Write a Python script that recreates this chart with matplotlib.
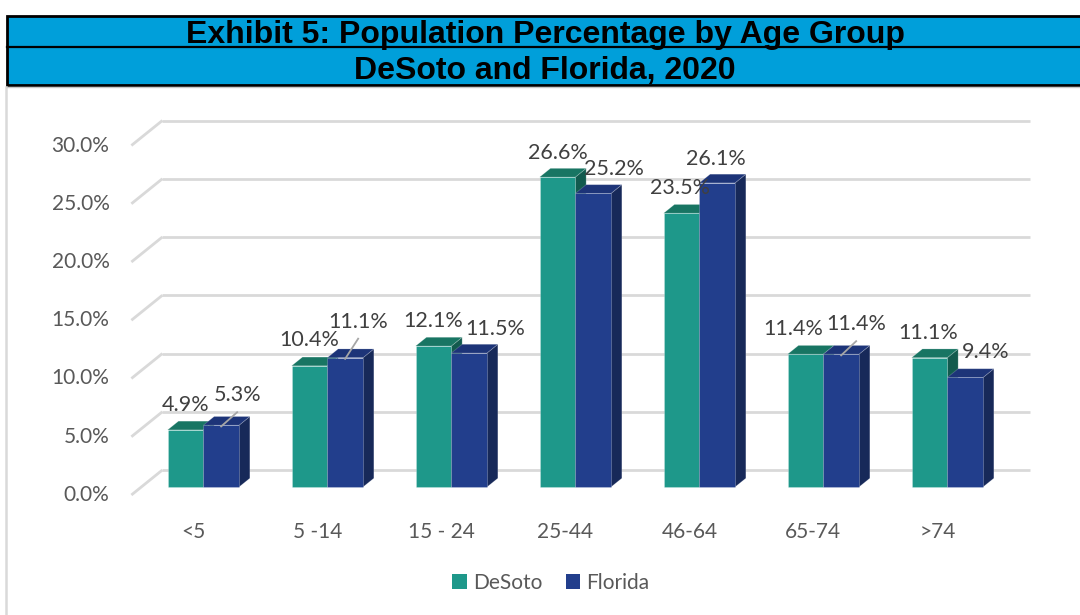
import numpy as np
import matplotlib
matplotlib.use("Agg")
import matplotlib.pyplot as plt
from matplotlib.patches import Rectangle, Polygon
from matplotlib.lines import Line2D

# Chart data
categories = ["<5", "5 -14", "15 - 24", "25-44", "46-64", "65-74", ">74"]
desoto = [4.9, 10.4, 12.1, 26.6, 23.5, 11.4, 11.1]
florida = [5.3, 11.1, 11.5, 25.2, 26.1, 11.4, 9.4]
series_names = ["DeSoto", "Florida"]
yticks = [0, 5, 10, 15, 20, 25, 30]

# Label nudges in pixels (dx, dy from top of bar front face)
desoto_lbl = [(0, 25), (0, 26), (0, 25), (0, 24), (-1, 25), (-12, 25), (-1, 25)]
florida_lbl = [(16, 30), (13, 36), (26, 24), (21, 24), (-1, 24), (15, 30), (21, 25)]
leaders = [True, True, False, False, False, True, False]

W, H = 1080, 615
SX, SY = 124.0, 11.65          # px per category / px per percent
OX, OY = 203.3, 487.0          # pixel position of category 0, value 0 (bar plane)
DX, DY = 31 / SX, 25 / SY      # depth of floor in data units
FRONT, BACK = -0.32, 0.68      # floor front / back relative to bar plane
BD = 0.35                      # bar depth (fraction of floor)
BW = 35.7 / SX                 # bar width

colors = {
    "DeSoto": ("#1E988A", "#187563", "#125A4E"),
    "Florida": ("#223E8C", "#1D3478", "#172959"),
}
grid_c = "#D9D9D9"
txt_c = "#595959"
lbl_c = "#404040"
font = "Lato"

fig = plt.figure(figsize=(W / 100, H / 100), dpi=100)
fig.patch.set_facecolor("white")
ax = fig.add_axes([0, 0, 1, 1])
ax.set_xlim(-OX / SX, (W - OX) / SX)
ax.set_ylim((OY - H) / SY, OY / SY)
ax.axis("off")

fx = lambda px: px / W
fy = lambda py: 1 - py / H

# title band
fig.patches.append(Rectangle((fx(7), fy(85)), 1 - fx(7) + 0.01, (85 - 16) / H,
                             transform=fig.transFigure, facecolor="#009FDA",
                             edgecolor="black", lw=2, zorder=0))
fig.lines.append(Line2D([fx(7), 1], [fy(47), fy(47)], transform=fig.transFigure,
                        color="black", lw=1.6))
fig.lines.append(Line2D([fx(6), fx(6)], [fy(87), 0], transform=fig.transFigure,
                        color=grid_c, lw=1.8))
fig.lines.append(Line2D([fx(7), 1], [fy(87), fy(87)], transform=fig.transFigure,
                        color="#C8C8C8", lw=1.0))
fig.text(fx(545), fy(32), "Exhibit 5: Population Percentage by Age Group",
         ha="center", va="center_baseline", fontsize=23, fontweight="bold",
         family="Liberation Sans", color="black")
fig.text(fx(545), fy(68), "DeSoto and Florida, 2020",
         ha="center", va="center_baseline", fontsize=23, fontweight="bold",
         family="Liberation Sans", color="black")

# walls / gridlines
x0 = -0.5
x1 = len(categories) - 0.5
for v in yticks:
    ax.plot([x0 + FRONT * DX, x0 + BACK * DX], [v + FRONT * DY, v + BACK * DY],
            color=grid_c, lw=2, solid_capstyle="butt", zorder=1)
    ax.plot([x0 + BACK * DX, x1 + BACK * DX], [v + BACK * DY, v + BACK * DY],
            color=grid_c, lw=2, solid_capstyle="butt", zorder=1)
    ax.text(x0 + FRONT * DX - 22 / SX, v + FRONT * DY, f"{v:.1f}%",
            ha="right", va="center", fontsize=15, color=txt_c, family=font)

# category labels (front plane)
for i, c in enumerate(categories):
    ax.text(i + FRONT * DX, -3.85, c, ha="center", va="center",
            fontsize=15, color=txt_c, family=font)

# 3D-ish bars
bdx, bdy = BD * DX, BD * DY
z = 2
for i in range(len(categories)):
    for s, (name, vals) in enumerate(zip(series_names, [desoto, florida])):
        v = vals[i]
        left = i - BW + s * BW
        fc, tc, sc = colors[name]
        side = Polygon([(left + BW, 0), (left + BW + bdx, bdy),
                        (left + BW + bdx, v + bdy), (left + BW, v)],
                       closed=True, facecolor=sc, edgecolor=(1, 1, 1, 0.2),
                       lw=0.6, zorder=z)
        top = Polygon([(left, v), (left + bdx, v + bdy),
                       (left + BW + bdx, v + bdy), (left + BW, v)],
                      closed=True, facecolor=tc, edgecolor=(1, 1, 1, 0.2),
                      lw=0.6, zorder=z)
        ax.add_patch(side)
        ax.add_patch(top)
        ax.bar(left, v, width=BW, align="edge", color=fc,
               edgecolor=(1, 1, 1, 0.25), lw=0.6, zorder=z + 0.5)
        z += 1

# data labels
for i in range(len(categories)):
    for s, (vals, offs) in enumerate(zip([desoto, florida], [desoto_lbl, florida_lbl])):
        v = vals[i]
        xc = i - BW / 2 + s * BW
        dx, dy = offs[i]
        lx, ly = xc + dx / SX, v + dy / SY
        ax.text(lx, ly, f"{v:.1f}%", ha="center", va="center", fontsize=15.5,
                color=lbl_c, family=font, zorder=50)
        if s == 1 and leaders[i]:
            ax.plot([xc, lx], [v - 0.1, ly - 17 / SY], color="#A6A6A6",
                    lw=1.3, zorder=49)

# legend
handles = [Rectangle((0, 0), 1, 1, facecolor=colors[n][0]) for n in series_names]
leg = fig.legend(handles, series_names, loc="center", ncol=2, frameon=False,
                 bbox_to_anchor=(fx(551), fy(583)), handlelength=0.7,
                 handleheight=0.7, handletextpad=0.3, columnspacing=1.1,
                 prop={"family": font, "size": 15})
for t in leg.get_texts():
    t.set_color(txt_c)

plt.savefig("out.png", dpi=100, facecolor="white")
